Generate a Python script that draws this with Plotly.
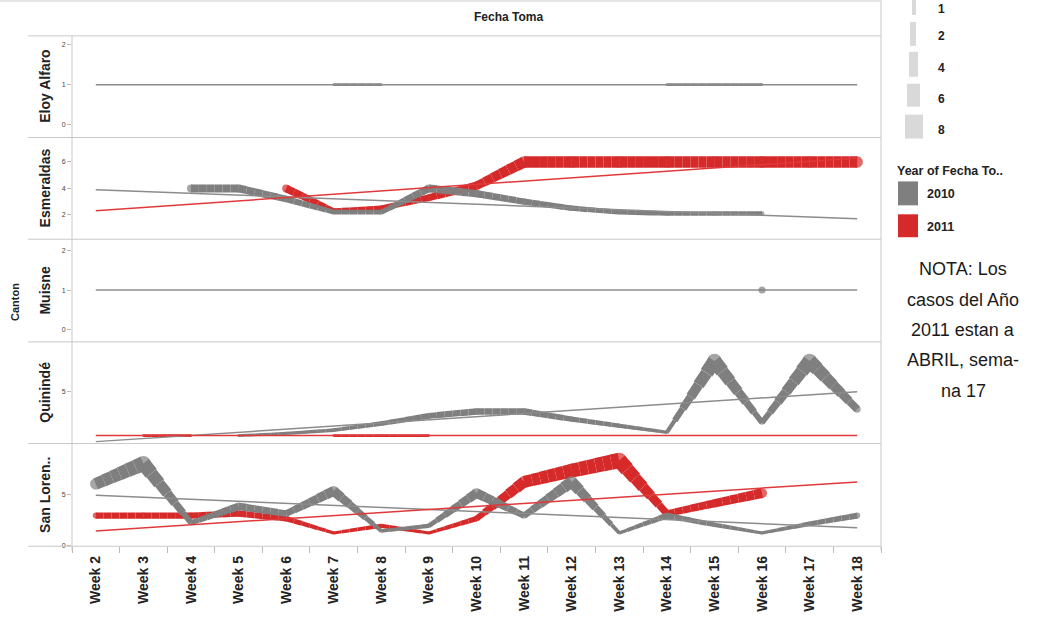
import plotly.graph_objects as go
from plotly.subplots import make_subplots

# ---------------- data ----------------
weeks = ["Week 2", "Week 3", "Week 4", "Week 5", "Week 6", "Week 7", "Week 8", "Week 9",
         "Week 10", "Week 11", "Week 12", "Week 13", "Week 14", "Week 15", "Week 16",
         "Week 17", "Week 18"]
cantons = ["Eloy Alfaro", "Esmeraldas", "Muisne", "Quinindé", "San Loren.."]
years = ["2010", "2011"]
size_legend = ["1", "2", "4", "6", "8"]

eloy_2010 = [None, None, None, None, None, 1, 1, None, None, None, None, None, 1, 1, 1, None, None]
esmeraldas_2010 = [None, None, 4, 4, 3.2, 2.2, 2.2, 4, 3.6, 3, 2.5, 2.2, 2.1, 2.1, 2.1, None, None]
esmeraldas_2011 = [None, None, None, None, 4, 2.3, 2.5, 3.3, 4.2, 6, 6, 6, 6, 6, 6, 6, 6]
muisne_2010 = [None, None, None, None, None, None, None, None, None, None, None, None, None, None, 1, None, None]
quininde_2010 = [None, None, None, 1, 1.2, 1.5, 2.1, 2.8, 3.2, 3.2, 2.5, 1.9, 1.3, 7.8, 2.2, 7.8, 3.4]
quininde_2011 = [None, 1, 1, None, None, 1, 1, 1, None, None, None, None, None, None, None, None, None]
sanlorenzo_2010 = [6, 8, 2.2, 3.8, 3.1, 5.3, 1.4, 1.9, 5.1, 2.9, 6.2, 1.2, 2.9, 2, 1.2, 2.1, 2.9]
sanlorenzo_2011 = [2.9, 2.9, 2.9, 3.1, 2.6, 1.2, 1.9, 1.2, 2.6, 6.2, 7.3, 8.3, 3.1, 4.1, 5.1, None, None]

# trend lines: value at Week 2 and at Week 18
trend_eloy_2010 = [1, 1]
trend_esmeraldas_2010 = [3.9, 1.7]
trend_esmeraldas_2011 = [2.3, 6.3]
trend_muisne_2010 = [1, 1]
trend_quininde_2010 = [0.45, 5.0]
trend_quininde_2011 = [1, 1]
trend_sanlorenzo_2010 = [4.9, 1.7]
trend_sanlorenzo_2011 = [1.4, 6.2]

# ---------------- style ----------------
W, H = 1043, 621
C2010 = "#7f7f7f"
C2011 = "#d62a2a"
T2010 = "#8c8c8c"
T2011 = "#e0393b"
BORDER = "#c8c8c8"
FONT = "Liberation Sans Narrow, Arial Narrow, Liberation Sans, Arial"


def px_x(x):
    return x / W


def px_y(y):
    return 1 - y / H


def wfun(v):
    return 1.0 + 1.75 * v


tops = [36, 138, 240, 343, 445]
bots = [138, 240, 343, 445, 548]

fig = make_subplots(rows=5, cols=1, shared_xaxes=True, vertical_spacing=0)

xs = list(range(len(weeks)))
NSUB = 6


def add_series(row, values, color):
    for i in range(len(values) - 1):
        a, b = values[i], values[i + 1]
        if a is None or b is None:
            continue
        for k in range(NSUB):
            t0, t1 = k / NSUB, (k + 1) / NSUB
            tm = (k + 0.5) / NSUB
            fig.add_trace(go.Scatter(
                x=[xs[i] + t0, xs[i] + t1],
                y=[a + (b - a) * t0, a + (b - a) * t1],
                mode="lines", line=dict(color=color, width=wfun(a + (b - a) * tm)),
                hoverinfo="skip", showlegend=False), row=row, col=1)
    px, py, ps = [], [], []
    for i, v in enumerate(values):
        if v is not None:
            prev_ok = i > 0 and values[i - 1] is not None
            next_ok = i < len(values) - 1 and values[i + 1] is not None
            px.append(xs[i]); py.append(v)
            ps.append(wfun(v) if (prev_ok or next_ok) else 7)
    fig.add_trace(go.Scatter(x=px, y=py, mode="markers",
                             marker=dict(color=color, size=ps, line=dict(width=0)),
                             hoverinfo="skip", showlegend=False), row=row, col=1)


def add_trend(row, tr, color):
    fig.add_trace(go.Scatter(x=[xs[0], xs[-1]], y=tr, mode="lines",
                             line=dict(color=color, width=1.5),
                             hoverinfo="skip", showlegend=False), row=row, col=1)


# row 1 Eloy Alfaro
add_series(1, eloy_2010, C2010)
add_trend(1, trend_eloy_2010, T2010)
# row 2 Esmeraldas
add_series(2, esmeraldas_2011, C2011)
add_series(2, esmeraldas_2010, C2010)
add_trend(2, trend_esmeraldas_2010, T2010)
add_trend(2, trend_esmeraldas_2011, T2011)
# row 3 Muisne
add_trend(3, trend_muisne_2010, T2010)
add_series(3, muisne_2010, C2010)
# row 4 Quinindé
add_series(4, quininde_2011, C2011)
add_series(4, quininde_2010, C2010)
add_trend(4, trend_quininde_2010, T2010)
add_trend(4, trend_quininde_2011, T2011)
# row 5 San Lorenzo
add_series(5, sanlorenzo_2011, C2011)
add_series(5, sanlorenzo_2010, C2010)
add_trend(5, trend_sanlorenzo_2010, T2010)
add_trend(5, trend_sanlorenzo_2011, T2011)

y_ranges = [[-0.325, 2.225], [0.151, 7.85], [-0.3, 2.275], [0.273, 9.545], [-0.098, 9.95]]
y_ticks = [[0, 1, 2], [2, 4, 6], [0, 1, 2], [0, 5, 10], [0, 5, 10]]

for r in range(5):
    sfx = "" if r == 0 else str(r + 1)
    fig.layout["yaxis" + sfx].update(
        domain=[px_y(bots[r]), px_y(tops[r])], range=y_ranges[r],
        tickmode="array", tickvals=y_ticks[r], ticks="outside", ticklen=4,
        tickcolor="#bbbbbb", tickfont=dict(family=FONT, size=7, color="#444"),
        showgrid=False, zeroline=False, showline=False, fixedrange=True)
    fig.layout["xaxis" + sfx].update(
        domain=[px_x(72), px_x(881)], range=[-0.5, 16.5],
        showgrid=False, zeroline=False, showline=False, showticklabels=(r == 4),
        tickmode="array", tickvals=xs, ticktext=weeks, ticks="",
        fixedrange=True)

fig.layout["xaxis5"].update(
    tickangle=-90, ticklabelstandoff=6,
    tickfont=dict(family=FONT, size=14, color="#222", weight="bold"),
    minor=dict(tick0=-0.5, dtick=1, ticks="outside", ticklen=6, tickcolor="#bbbbbb", tickwidth=1))

# ---------------- frame lines ----------------
shapes = []
for y in [36, 138, 240, 343, 445, 548]:
    shapes.append(dict(type="line", xref="paper", yref="paper", x0=px_x(28), x1=px_x(881),
                       y0=px_y(y), y1=px_y(y), line=dict(color=BORDER, width=1)))
shapes.append(dict(type="line", xref="paper", yref="paper", x0=px_x(72), x1=px_x(72),
                   y0=px_y(36), y1=px_y(552), line=dict(color=BORDER, width=1)))
shapes.append(dict(type="line", xref="paper", yref="paper", x0=px_x(881), x1=px_x(881),
                   y0=px_y(0), y1=px_y(552), line=dict(color=BORDER, width=1)))
shapes.append(dict(type="line", xref="paper", yref="paper", x0=0, x1=px_x(881),
                   y0=px_y(1), y1=px_y(1), line=dict(color="#e6e6e6", width=2)))

# size legend glyphs
size_boxes = [(912, 916, 0, 15), (910, 916, 22, 46), (909, 918, 52, 77), (907, 920, 84, 107), (905, 923, 115, 139)]
for (x0, x1, y0, y1) in size_boxes:
    shapes.append(dict(type="rect", xref="paper", yref="paper", x0=px_x(x0), x1=px_x(x1),
                       y0=px_y(y1), y1=px_y(y0), fillcolor="#d9d9d9", line=dict(width=0)))
# colour legend swatches
shapes.append(dict(type="rect", xref="paper", yref="paper", x0=px_x(898), x1=px_x(918),
                   y0=px_y(206), y1=px_y(182), fillcolor=C2010, line=dict(width=0)))
shapes.append(dict(type="rect", xref="paper", yref="paper", x0=px_x(898), x1=px_x(918),
                   y0=px_y(238), y1=px_y(215), fillcolor=C2011, line=dict(width=0)))

ann = []


def text(x, y, s, size=11, bold=True, angle=0, xanchor="center", color="#222"):
    ann.append(dict(x=px_x(x), y=px_y(y), xref="paper", yref="paper", text=s, showarrow=False,
                    textangle=angle, xanchor=xanchor, yanchor="middle",
                    font=dict(family=FONT, size=size, color=color, weight="bold" if bold else "normal")))


text(508, 17, "Fecha Toma", size=12)
text(15, 303, "Canton", size=11, angle=-90)
for r, name in enumerate(cantons):
    text(45, (tops[r] + bots[r]) / 2, name, size=14, angle=-90)

for s, y in zip(size_legend, [9, 36, 68, 99, 130]):
    text(936, y, s, size=12, xanchor="left")
text(895, 172, "Year of Fecha To..", size=12.5, xanchor="left")
text(925, 195, years[0], size=12.5, xanchor="left")
text(925, 228, years[1], size=12.5, xanchor="left")

note = ["NOTA: Los", "casos del Año", "2011 estan a", "ABRIL, sema-", "na 17"]
for i, line in enumerate(note):
    text(963, 270 + 30.5 * i, line, size=18, bold=False, color="#1a1a1a")

fig.update_layout(width=W, height=H, margin=dict(l=0, r=0, t=0, b=0),
                  paper_bgcolor="white", plot_bgcolor="white",
                  shapes=shapes, annotations=ann, showlegend=False)

fig.write_html("out.html", config={"displayModeBar": False, "staticPlot": True},
               post_script="document.body.style.margin='0px';document.body.style.overflow='hidden';")
